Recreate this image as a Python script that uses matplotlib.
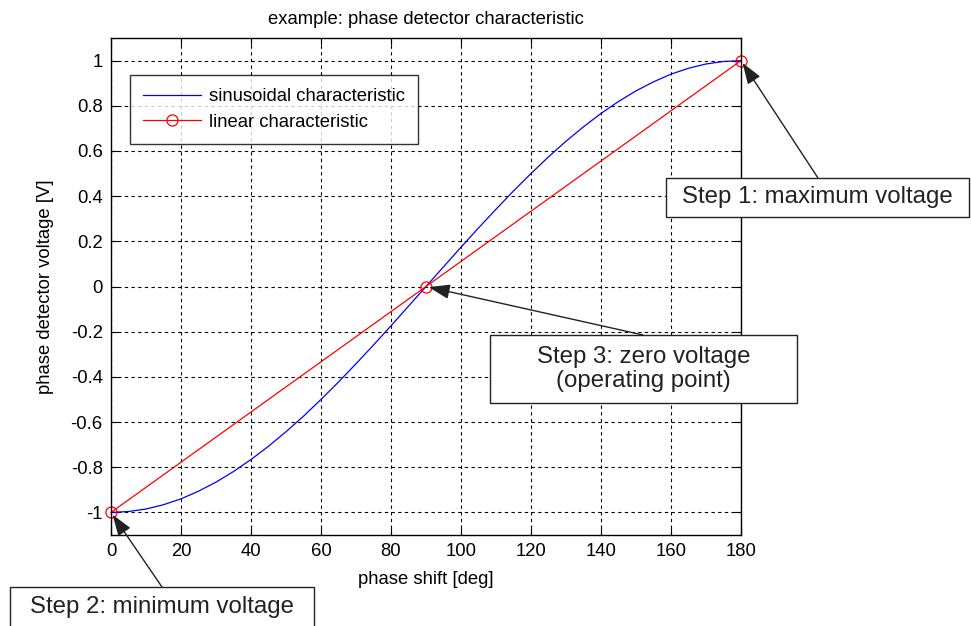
import matplotlib
matplotlib.use("Agg")
import matplotlib.pyplot as plt
from matplotlib.patches import Rectangle

plt.rcParams['font.family'] = ['Liberation Sans', 'DejaVu Sans']

# data
phase_deg = [0, 5, 10, 15, 20, 25, 30, 35, 40, 45, 50, 55, 60, 65, 70, 75, 80, 85, 90,
             95, 100, 105, 110, 115, 120, 125, 130, 135, 140, 145, 150, 155, 160, 165, 170, 175, 180]
sin_voltage = [-1.0, -0.996, -0.985, -0.966, -0.94, -0.906, -0.866, -0.819, -0.766, -0.707,
               -0.643, -0.574, -0.5, -0.423, -0.342, -0.259, -0.174, -0.087, 0.0,
               0.087, 0.174, 0.259, 0.342, 0.423, 0.5, 0.574, 0.643, 0.707, 0.766,
               0.819, 0.866, 0.906, 0.94, 0.966, 0.985, 0.996, 1.0]
lin_phase = [0, 90, 180]
lin_voltage = [-1.0, 0.0, 1.0]
x_ticks = [0, 20, 40, 60, 80, 100, 120, 140, 160, 180]
y_ticks = [-1, -0.8, -0.6, -0.4, -0.2, 0, 0.2, 0.4, 0.6, 0.8, 1]
y_tick_labels = ['-1', '-0.8', '-0.6', '-0.4', '-0.2', '0', '0.2', '0.4', '0.6', '0.8', '1']

W, H = 971, 626
fig = plt.figure(figsize=(W / 100, H / 100), dpi=100)
ax = fig.add_axes([111 / W, (H - 535) / H, (741 - 111) / W, (535 - 38) / H])

ax.plot(phase_deg, sin_voltage, color='#0000ff', lw=0.9, label='sinusoidal characteristic')
ax.plot(lin_phase, lin_voltage, color='#ff0000', lw=0.9, marker='o', markersize=8,
        markerfacecolor='none', markeredgecolor='#ff0000', markeredgewidth=0.9,
        label='linear characteristic', clip_on=False)

FS = 13.3
ax.set_xlim(0, 180)
ax.set_ylim(-1.1, 1.1)
ax.set_xticks(x_ticks)
ax.set_yticks(y_ticks)
ax.set_yticklabels(y_tick_labels)
ax.grid(True, color='black', linestyle=(0, (3, 3)), lw=0.8)
ax.tick_params(direction='in', length=5, width=0.8, top=True, right=True,
               labelsize=FS, colors='black', pad=6)
for s in ax.spines.values():
    s.set_linewidth(1.0)

ax.set_title('example: phase detector characteristic', fontsize=FS, pad=10)
ax.set_xlabel('phase shift [deg]', fontsize=FS, labelpad=8)
ax.set_ylabel('phase detector voltage [V]', fontsize=FS, labelpad=12)

leg = ax.legend(loc='upper left', bbox_to_anchor=((130 - 111) / 630, (535 - 75) / 497),
                fontsize=FS, frameon=True, fancybox=False, edgecolor='black',
                borderaxespad=0, handlelength=3.1, handletextpad=0.45,
                borderpad=0.72, labelspacing=0.45)
leg.get_frame().set_linewidth(1.0)

def px2fig(x, y):
    return x / W, (H - y) / H

def box(x0, y0, x1, y1, text):
    fx, fy = px2fig(x0, y1)
    fig.patches.append(Rectangle((fx, fy), (x1 - x0) / W, (y1 - y0) / H,
                                 transform=fig.transFigure, facecolor='white',
                                 edgecolor='#222222', lw=1.0, zorder=5))
    cx, cy = px2fig((x0 + x1) / 2, (y0 + y1) / 2)
    fig.text(cx, cy, text, ha='center', va='center', fontsize=17.3, color='#222222',
             zorder=6, linespacing=1.1)

def arrow(xy, start):
    ax.annotate('', xy=xy, xycoords='data', xytext=(start[0], H - start[1]),
                textcoords='figure pixels',
                arrowprops=dict(arrowstyle='-|>,head_length=1.3,head_width=0.45',
                                color='#222222', lw=1.0, shrinkA=0, shrinkB=2,
                                facecolor='black'), annotation_clip=False)

arrow((180, 1), (818, 178))
box(666, 178, 969, 217, 'Step 1: maximum voltage')
arrow((0, -1), (162, 587))
box(10, 587, 314, 628, 'Step 2: minimum voltage')
arrow((90, 0), (643, 335))
box(490, 335, 797, 403, 'Step 3: zero voltage\n(operating point)')

fig.savefig('out.png', dpi=100)
